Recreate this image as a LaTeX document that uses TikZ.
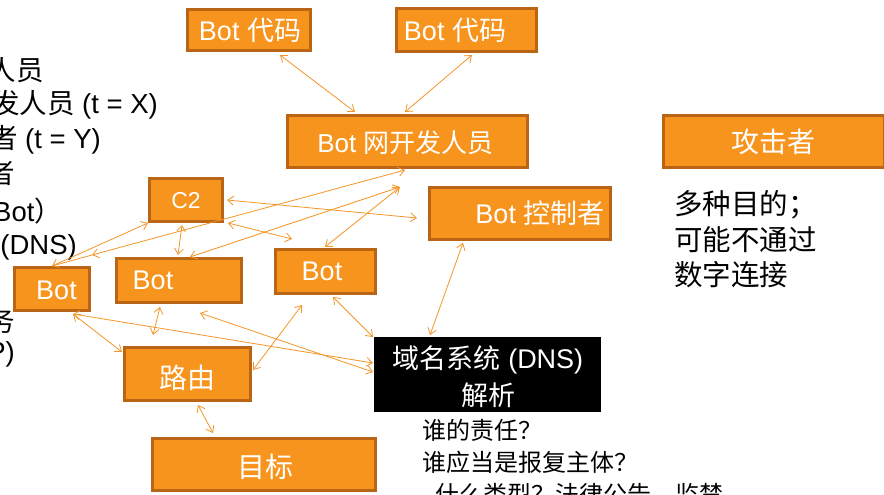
\documentclass[tikz,border=0pt]{standalone}
\usepackage{fontspec}
\setmainfont{Liberation Sans}
\newfontfamily\cjk{Noto Sans CJK SC}
\usetikzlibrary{arrows.meta}
\definecolor{boxfill}{RGB}{247,148,30}
\definecolor{boxline}{RGB}{186,100,22}
\definecolor{arr}{RGB}{245,150,40}
\begin{document}
\begin{tikzpicture}[x=1pt,y=-1pt,
  box/.style={draw=boxline, line width=2.8pt, fill=boxfill, inner sep=0pt},
  lbl/.style={text=white, inner sep=0pt, font=\fontsize{27}{31}\selectfont},
  lblbig/.style={text=white, inner sep=0pt, font=\fontsize{28}{32}\selectfont\cjk},
  link/.style={draw=arr, line width=0.8pt, {Straight Barb[length=6pt,width=9pt]}-{Straight Barb[length=6pt,width=9pt]}},
  plain/.style={draw=arr, line width=0.8pt},
  lefttext/.style={anchor=east, inner sep=0pt, text=black, font=\fontsize{27.5}{32}\selectfont},
  blk/.style={inner sep=0pt, text=black, align=left}
]
\useasboundingbox (0,0) rectangle (884,495);
\clip (0,0) rectangle (884,495);
\fill[white] (0,0) rectangle (884,495);

% left, cut-off text (cut off at the edge as in the original)
\node[lefttext] (l1) at (44,70) {{\cjk 人员}};
\node[lefttext] (l2) at (158,105) {{\cjk 发人员} (t = X)};
\node[lefttext] (l3) at (101,140) {{\cjk 者} (t = Y)};
\node[lefttext] (l4) at (15,173) {{\cjk 者}};
\node[lefttext, anchor=west] (l5) at (-7,211) {Bot{\cjk ）}};
\node[lefttext] (l6) at (77,247) {(DNS)};
\node[lefttext] (l7) at (15,321) {{\cjk 务}};
\node[lefttext] (l8) at (15,354) {P)};

% boxes
\node[box, minimum width=123.5, minimum height=41.5,
  label={[lbl, xshift=1pt]center:{Bot {\cjk 代码}}}] (codeA) at (249,30) {};
\node[box, minimum width=140.5, minimum height=43.5,
  label={[lbl, xshift=-11.5pt]center:{Bot {\cjk 代码}}}] (codeB) at (466.5,30) {};
\node[box, minimum width=240.5, minimum height=52.5,
  label={[lbl, font=\fontsize{26}{30}\selectfont, xshift=-2pt, yshift=-1.5pt]center:{Bot {\cjk 网开发人员}}}] (dev) at (407.5,141.5) {};
\node[box, minimum width=221.5, minimum height=52.5,
  label={[lblbig, xshift=-1pt]center:{攻击者}}] (atk) at (774,141.5) {};
\node[box, minimum width=73.5, minimum height=43.5,
  label={[lbl, font=\fontsize{23}{27}\selectfont, yshift=-1pt]center:{C2}}] (c2) at (186,200) {};
\node[box, minimum width=181.5, minimum height=52.5,
  label={[lbl, xshift=20pt]center:{Bot {\cjk 控制者}}}] (ctl) at (520,213.5) {};
\node[box, minimum width=75.5, minimum height=43.5,
  label={[lbl, xshift=4.5pt, yshift=-1pt]center:{Bot}}] (botl) at (52,289) {};
\node[box, minimum width=125.5, minimum height=44.5,
  label={[lbl, xshift=-26pt]center:{Bot}}] (botm) at (179,280.5) {};
\node[box, minimum width=100.5, minimum height=44.5,
  label={[lbl, xshift=-3.5pt]center:{Bot}}] (botr) at (325.5,271.5) {};
\node[box, minimum width=126.5, minimum height=53.5,
  label={[lblbig, yshift=-4pt]center:{路由}}] (route) at (187.5,374) {};
\node[box, minimum width=223.5, minimum height=52.5,
  label={[lblbig, xshift=1.5pt, yshift=-2.5pt]center:{目标}}] (target) at (264,464.5) {};
\node[fill=black, minimum width=227, minimum height=75, inner sep=0pt] (dns) at (487.5,374.5) {};
\node[text=white, align=center, inner sep=0pt,
  font=\fontsize{27}{37}\selectfont] (dnst) at (488,377) {{\cjk 域名系统} (DNS)\\{\cjk 解析}};

% side texts
\node[blk, anchor=west, font=\fontsize{28.5}{35.5}\selectfont\cjk] (goal) at (674,239.5) {多种目的；\\可能不通过\\数字连接};
\node[blk, anchor=north west, font=\fontsize{24}{32}\selectfont\cjk] (who) at (422,419) {谁的责任？\\谁应当是报复主体？\\- 什么类型？法律公告、监禁};

% connector end points
\coordinate (a1) at (280,55);  \coordinate (a2) at (355,112);
\coordinate (b1) at (472,55);  \coordinate (b2) at (405,112);
\coordinate (d1) at (405,170); \coordinate (d2) at (92,255); \coordinate (d3) at (52,266);
\coordinate (h)  at (400,187);
\coordinate (m1) at (190,257); \coordinate (r1) at (325,247);
\coordinate (c2r) at (227,200); \coordinate (cta) at (417,218);
\coordinate (c2q) at (228,223); \coordinate (rq) at (292,239);
\coordinate (c2b) at (182,225); \coordinate (mb) at (178,255);
\coordinate (c2l) at (148,223);
\coordinate (mbot) at (160,307); \coordinate (rt1) at (153,335);
\coordinate (lb) at (73,314);  \coordinate (dn1) at (373,363);
\coordinate (mb2) at (200,313); \coordinate (dn2) at (373,372);
\coordinate (rt2) at (122,352);
\coordinate (rb) at (333,297); \coordinate (dn3) at (373,337);
\coordinate (rt3) at (253,370); \coordinate (rb2) at (302,305);
\coordinate (ctb) at (463,243); \coordinate (dn4) at (430,335);
\coordinate (rt4) at (198,405); \coordinate (tg) at (213,433);

\draw[link] (a1) -- (a2);
\draw[link] (b1) -- (b2);
\draw[link] (d1) -- (d2);
\draw[plain] (d2) -- (d3);
\draw[link] (h) -- (m1);
\draw[link] (h) -- (r1);
\draw[link] (c2r) -- (cta);
\draw[link] (c2q) -- (rq);
\draw[link] (c2b) -- (mb);
\draw[link] (c2l) -- (d3);
\draw[link] (mbot) -- (rt1);
\draw[link] (lb) -- (dn1);
\draw[link] (mb2) -- (dn2);
\draw[link] (lb) -- (rt2);
\draw[link] (rb) -- (dn3);
\draw[link] (rt3) -- (rb2);
\draw[link] (ctb) -- (dn4);
\draw[link] (rt4) -- (tg);
\end{tikzpicture}
\end{document}
